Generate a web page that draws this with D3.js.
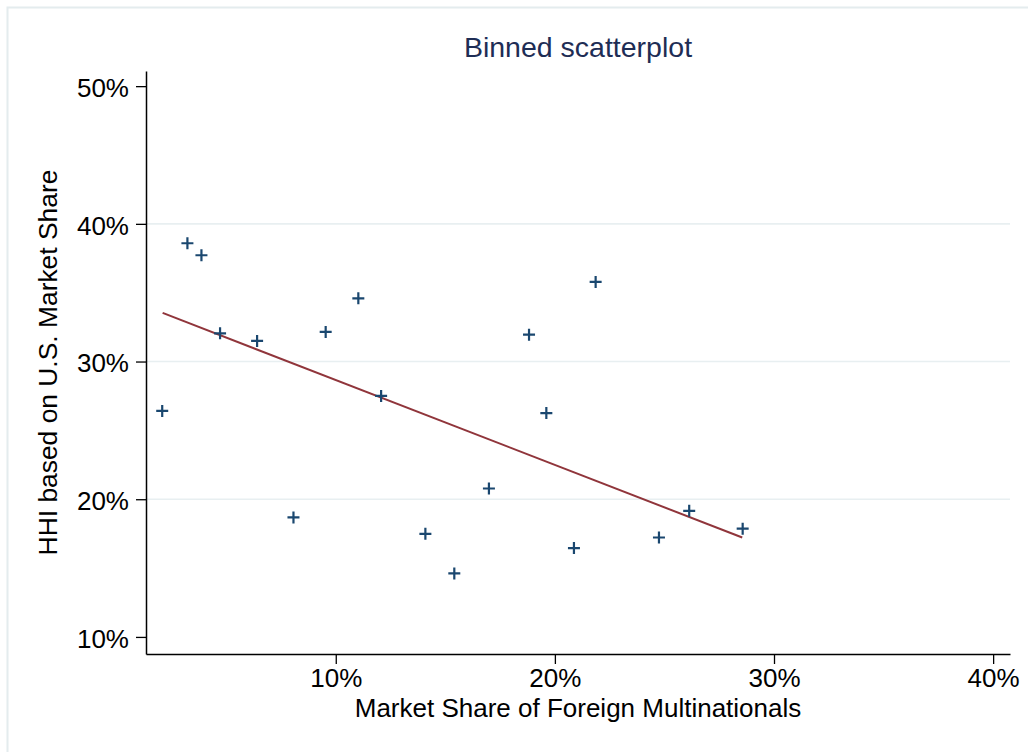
<!DOCTYPE html>
<html>
<head>
<meta charset="utf-8">
<script src="https://cdn.jsdelivr.net/npm/d3@7"></script>
<style>
  html, body { margin: 0; padding: 0; background: #ffffff; }
  svg { display: block; }
  text { font-family: Arial, "Liberation Sans", sans-serif; }
</style>
</head>
<body>
<svg id="chart" width="1028" height="752"></svg>
<script>
// ---- Data (in percent) ----
const marketShareForeign = [2.08, 3.23, 3.87, 4.72, 6.41, 8.07, 9.54, 11.03, 12.07, 14.09,
                            15.41, 16.99, 18.82, 19.61, 20.87, 21.86, 24.75, 26.13, 28.57];
const hhiUS = [26.41, 38.59, 37.72, 32.05, 31.50, 18.68, 32.15, 34.59, 27.50, 17.49,
               14.61, 20.78, 31.95, 26.26, 16.45, 35.78, 17.22, 19.16, 17.86];
const fitX = [2.10, 28.55];
const fitY = [33.53, 17.22];
const xTicks = [10, 20, 30, 40];
const yTicks = [10, 20, 30, 40, 50];
const gridTicks = [20, 30, 40];
const titleText = "Binned scatterplot";
const xTitle = "Market Share of Foreign Multinationals";
const yTitle = "HHI based on U.S. Market Share";

(function () {
// ---- Layout ----
const svg = d3.select("#chart");
const pl = 146, pr = 1010, pt = 71, pb = 654;

const x = d3.scaleLinear().domain([1.34, 40.77]).range([pl, pr]);
const y = d3.scaleLinear().domain([8.76, 51.1]).range([pb, pt]);

// outer frame (light)
svg.append("rect")
  .attr("x", 7.5).attr("y", 7.5).attr("width", 1040).attr("height", 760)
  .attr("fill", "#ffffff").attr("stroke", "#e4ecee").attr("stroke-width", 2);

// gridlines
svg.append("g").selectAll("line").data(gridTicks).join("line")
  .attr("x1", pl).attr("x2", pr)
  .attr("y1", d => y(d)).attr("y2", d => y(d))
  .attr("stroke", "#e8eff1").attr("stroke-width", 1.6);

// axes
const fmt = d => d + "%";
const xAxis = svg.append("g").attr("transform", `translate(0,${pb})`)
  .call(d3.axisBottom(x).tickValues(xTicks).tickFormat(fmt).tickSize(10).tickPadding(4.5).tickSizeOuter(0));
const yAxis = svg.append("g").attr("transform", `translate(${pl},0)`)
  .call(d3.axisLeft(y).tickValues(yTicks).tickFormat(fmt).tickSize(10).tickPadding(7).tickSizeOuter(0));

[xAxis, yAxis].forEach(a => {
  a.select(".domain").attr("stroke", "#000").attr("stroke-width", 1.5);
  a.selectAll(".tick line").attr("stroke", "#000").attr("stroke-width", 1.3);
  a.selectAll(".tick text").attr("fill", "#000").attr("font-size", 26)
    .attr("font-family", "Arial, 'Liberation Sans', sans-serif");
});
yAxis.selectAll(".tick text").attr("dy", "0.4em");

// fit line
svg.append("line")
  .attr("x1", x(fitX[0])).attr("y1", y(fitY[0]))
  .attr("x2", x(fitX[1])).attr("y2", y(fitY[1]))
  .attr("stroke", "#90353b").attr("stroke-width", 2);

// markers (plus signs)
const pts = marketShareForeign.map((v, i) => [v, hhiUS[i]]);
const mg = svg.append("g");
pts.forEach(([a, b]) => {
  const cx = x(a), cy = y(b), r = 6;
  mg.append("path")
    .attr("d", `M${cx - r},${cy}H${cx + r}M${cx},${cy - r}V${cy + r}`)
    .attr("stroke", "#1a476f").attr("stroke-width", 2.2).attr("fill", "none");
});

// titles
svg.append("text").attr("x", (pl + pr) / 2).attr("y", 57)
  .attr("text-anchor", "middle").attr("font-size", 28.5).attr("fill", "#1e2d55")
  .text(titleText);
svg.append("text").attr("x", (pl + pr) / 2).attr("y", 717)
  .attr("text-anchor", "middle").attr("font-size", 26).attr("fill", "#000")
  .text(xTitle);
svg.append("text").attr("transform", `translate(57,${(pt + pb) / 2}) rotate(-90)`)
  .attr("text-anchor", "middle").attr("font-size", 26.4).attr("fill", "#000")
  .text(yTitle);
})();
</script>
</body>
</html>
